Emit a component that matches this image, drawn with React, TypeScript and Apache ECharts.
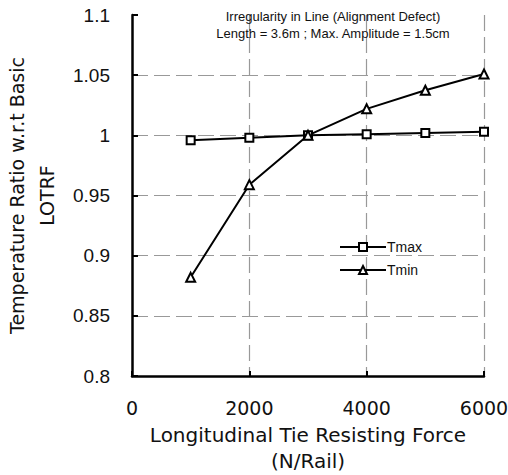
import React, { useEffect, useRef } from "react";
import * as echarts from "echarts";

const xValues = [1000, 2000, 3000, 4000, 5000, 6000];
const tmax = [0.996, 0.998, 1.0, 1.001, 1.002, 1.003];
const tmin = [0.882, 0.959, 1.0, 1.022, 1.0375, 1.051];
const titleLines = ["Irregularity in Line (Alignment Defect)", "Length = 3.6m ; Max. Amplitude = 1.5cm"];

export default function App() {
  const ref = useRef<HTMLDivElement>(null);
  useEffect(() => {
    const chart = echarts.init(ref.current!, undefined, { renderer: "svg" });
    const font = "Liberation Sans, Arial, sans-serif";
    const wide = "DejaVu Sans, sans-serif";
    chart.setOption({
      animation: false,
      backgroundColor: "#fff",
      textStyle: { fontFamily: font },
      title: {
        text: titleLines.join("\n"),
        left: 328,
        textAlign: "center",
        top: 3,
        textStyle: { fontSize: 13, fontWeight: "normal", color: "#111", lineHeight: 17, fontFamily: font },
      },
      legend: {
        left: 334,
        top: 235,
        orient: "vertical",
        itemWidth: 46,
        itemHeight: 10,
        itemGap: 9,
        data: ["Tmax", "Tmin"],
        textStyle: { fontSize: 14, color: "#111", padding: [0, 0, 0, -4] },
      },
      grid: { left: 132, right: 24, top: 15, bottom: 99, outerBoundsMode: "none" },
      xAxis: {
        type: "value",
        min: 0,
        max: 6000,
        interval: 2000,
        name: "Longitudinal Tie Resisting Force\n(N/Rail)",
        nameLocation: "middle",
        nameGap: 46,
        nameTextStyle: { fontSize: 20, color: "#111", lineHeight: 26, fontFamily: wide },
        axisLine: { show: true, lineStyle: { color: "#000", width: 2.5 } },
        axisTick: { show: true, inside: true, length: 5, lineStyle: { color: "#000", width: 2 } },
        axisLabel: { fontSize: 19, color: "#111", margin: 22, fontFamily: wide, formatter: (v: number) => String(v) },
        splitLine: { show: true, showMinLine: false, lineStyle: { color: "#999", type: [16, 6], width: 1.2 } },
      },
      yAxis: {
        type: "value",
        min: 0.8,
        max: 1.1,
        interval: 0.05,
        name: "Temperature Ratio w.r.t Basic\nLOTRF",
        nameLocation: "middle",
        nameGap: 67,
        nameTextStyle: { fontSize: 19, color: "#111", lineHeight: 30, fontFamily: wide },
        axisLine: { show: true, lineStyle: { color: "#000", width: 2.5 } },
        axisTick: { show: true, inside: true, length: 6, lineStyle: { color: "#000", width: 2 } },
        axisLabel: {
          fontSize: 19,
          color: "#111",
          margin: 22,
          formatter: (v: number) => String(parseFloat(v.toFixed(2))),
        },
        splitLine: { show: true, showMaxLine: false, showMinLine: false, lineStyle: { color: "#999", type: [16, 6], width: 1.2 } },
      },
      series: [
        {
          name: "Tmax",
          type: "line",
          data: xValues.map((x, i) => [x, tmax[i]]),
          symbol: "rect",
          symbolSize: 8,
          lineStyle: { color: "#000", width: 2 },
          itemStyle: { color: "#fff", borderColor: "#000", borderWidth: 2 },
        },
        {
          name: "Tmin",
          type: "line",
          data: xValues.map((x, i) => [x, tmin[i]]),
          symbol: "triangle",
          symbolSize: 9,
          lineStyle: { color: "#000", width: 2 },
          itemStyle: { color: "#fff", borderColor: "#000", borderWidth: 2 },
        },
      ],
    });
    return () => chart.dispose();
  }, []);
  return <div ref={ref} style={{ width: 508, height: 475, position: "absolute", left: 0, top: 0 }} />;
}
